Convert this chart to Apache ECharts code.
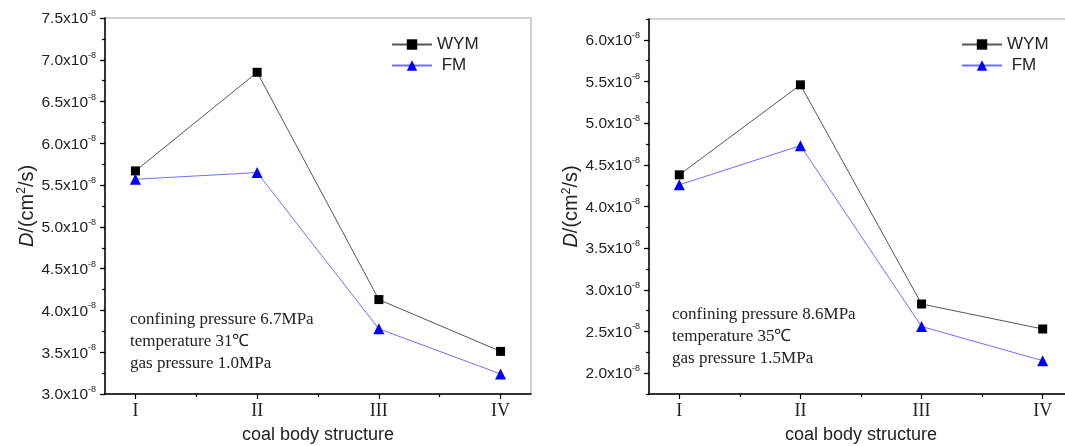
<!DOCTYPE html>
<html>
<head>
<meta charset="utf-8">
<script src="https://cdn.jsdelivr.net/npm/echarts@6/dist/echarts.min.js"></script>
<style>
html,body{margin:0;padding:0;background:#fff;}
#c{width:1065px;height:446px;}
</style>
</head>
<body>
<div id="c"></div>
<script>
// Values in units of 1e-8 cm^2/s
const categories = ['I', 'II', 'III', 'IV'];
const wymLeft = [5.67, 6.85, 4.13, 3.51];
const fmLeft  = [5.57, 5.65, 3.78, 3.24];
const wymRight = [4.38, 5.46, 2.83, 2.53];
const fmRight  = [4.26, 4.73, 2.56, 2.15];
const yTicksLeft  = [3.0, 3.5, 4.0, 4.5, 5.0, 5.5, 6.0, 6.5, 7.0, 7.5];
const yTicksRight = [2.0, 2.5, 3.0, 3.5, 4.0, 4.5, 5.0, 5.5, 6.0];
const notesLeft  = ['confining pressure 6.7MPa', 'temperature 31\u2103', 'gas pressure 1.0MPa'];
const notesRight = ['confining pressure 8.6MPa', 'temperature 35\u2103', 'gas pressure 1.5MPa'];
const xName = 'coal body structure';

const SANS = 'Liberation Sans, Arial, sans-serif';
const SERIF = 'Liberation Serif, Times New Roman, serif';
const xPos = categories.map((c, i) => i + 1);
const pts = arr => arr.map((v, i) => [xPos[i], v]);
const minorX = xPos.slice(0, -1).map(v => v + 0.5);

function minorY(min, max) {
  const out = [];
  for (let v = min; v <= max + 1e-9; v += 0.25) out.push(+v.toFixed(2));
  return out;
}

const yLabel = {
  margin: 9,
  formatter: v => '{m|' + v.toFixed(1) + 'x10}{s|-8}',
  rich: {
    m: {fontFamily: SANS, fontSize: 15.5, color: '#222', lineHeight: 18, verticalAlign: 'bottom'},
    s: {fontFamily: SANS, fontSize: 9, color: '#222', lineHeight: 18, verticalAlign: 'top', padding: [0, 0, 9, 0]}
  }
};
const yName = '{i|D}{m|/(cm}{s|2}{m|/s)}';
const yNameRich = {
  i: {fontFamily: SANS, fontSize: 20, fontStyle: 'italic', color: '#222'},
  m: {fontFamily: SANS, fontSize: 20, color: '#222'},
  s: {fontFamily: SANS, fontSize: 12, color: '#222', padding: [0, 0, 10, 0]}
};

const grids = [
  {left: 105, top: 18, width: 426, height: 376, min: 3.0, max: 7.5, ticks: yTicksLeft, wym: wymLeft, fm: fmLeft, nameGap: 67},
  {left: 649, top: 19, width: 424, height: 375, min: 1.75, max: 6.25, ticks: yTicksRight, wym: wymRight, fm: fmRight, nameGap: 66}
];

const option = {
  backgroundColor: '#fff',
  animation: false,
  grid: [], xAxis: [], yAxis: [], series: [], legend: [], graphic: []
};

grids.forEach((g, k) => {
  option.grid.push({left: g.left, top: g.top, width: g.width, height: g.height,
    outerBoundsMode: 'none', containLabel: false,
    show: true, borderColor: '#c4c4c4', borderWidth: 1.5, backgroundColor: 'transparent'});
  option.xAxis.push({
    type: 'value', gridIndex: k, position: 'bottom', min: 0.75, max: 4.25,
    name: xName, nameLocation: 'middle', nameGap: 32,
    nameTextStyle: {fontFamily: SANS, fontSize: 18, color: '#222'},
    axisLine: {show: true, onZero: false, lineStyle: {color: '#000', width: 1.5}},
    axisTick: {show: true, inside: false, length: 5, customValues: xPos, lineStyle: {color: '#000', width: 1.2}},
    axisLabel: {customValues: xPos, margin: 8, formatter: v => categories[Math.round(v) - 1] || '',
      fontFamily: SERIF, fontSize: 18, color: '#222'},
    splitLine: {show: false}
  });
  option.xAxis.push({
    type: 'value', gridIndex: k, position: 'bottom', min: 0.75, max: 4.25,
    axisLine: {show: false, onZero: false},
    axisTick: {show: true, length: 3, customValues: minorX, lineStyle: {color: '#000', width: 1.2}},
    axisLabel: {show: false}, splitLine: {show: false}
  });
  option.yAxis.push({
    type: 'value', gridIndex: k, position: 'left', min: g.min, max: g.max,
    name: yName, nameLocation: 'middle', nameGap: g.nameGap, nameRotate: 90,
    nameTextStyle: {rich: yNameRich},
    axisLine: {show: true, onZero: false, lineStyle: {color: '#000', width: 1.5}},
    axisTick: {show: true, length: 5, customValues: g.ticks, lineStyle: {color: '#000', width: 1.2}},
    axisLabel: Object.assign({}, yLabel, {customValues: g.ticks}),
    splitLine: {show: false}
  });
  option.yAxis.push({
    type: 'value', gridIndex: k, position: 'left', min: g.min, max: g.max,
    axisLine: {show: false, onZero: false},
    axisTick: {show: true, length: 3, customValues: minorY(g.min, g.max), lineStyle: {color: '#000', width: 1.2}},
    axisLabel: {show: false}, splitLine: {show: false}
  });
  const xi = k * 2, yi = k * 2;
  option.series.push({
    name: 'WYM', type: 'line', xAxisIndex: xi, yAxisIndex: yi, data: pts(g.wym),
    symbol: 'rect', symbolSize: 9, lineStyle: {color: '#555', width: 1},
    itemStyle: {color: '#000'}, z: 3
  });
  option.series.push({
    name: 'FM', type: 'line', xAxisIndex: xi, yAxisIndex: yi, data: pts(g.fm),
    symbol: 'triangle', symbolSize: 11, lineStyle: {color: '#6f6fff', width: 1},
    itemStyle: {color: '#0000ff'}, z: 4
  });
  option.legend.push({
    orient: 'vertical', left: k === 0 ? 386 : 956, top: 31,
    itemWidth: 40, itemHeight: 13, itemGap: 4,
    data: ['WYM', 'FM'], selectedMode: false,
    formatter: n => n === 'FM' ? ' ' + n : n,
    textStyle: {fontFamily: SANS, fontSize: 17, color: '#222'}
  });
  const notes = k === 0 ? notesLeft : notesRight;
  const nx = k === 0 ? 130 : 672, ny = k === 0 ? 311 : 306;
  notes.forEach((t, j) => {
    option.graphic.push({type: 'text', left: nx, top: ny + j * 22,
      style: {text: t, font: '17px ' + SERIF, fill: '#222'}});
  });
});

const chart = echarts.init(document.getElementById('c'), null, {renderer: 'canvas'});
chart.setOption(option);
</script>
</body>
</html>
